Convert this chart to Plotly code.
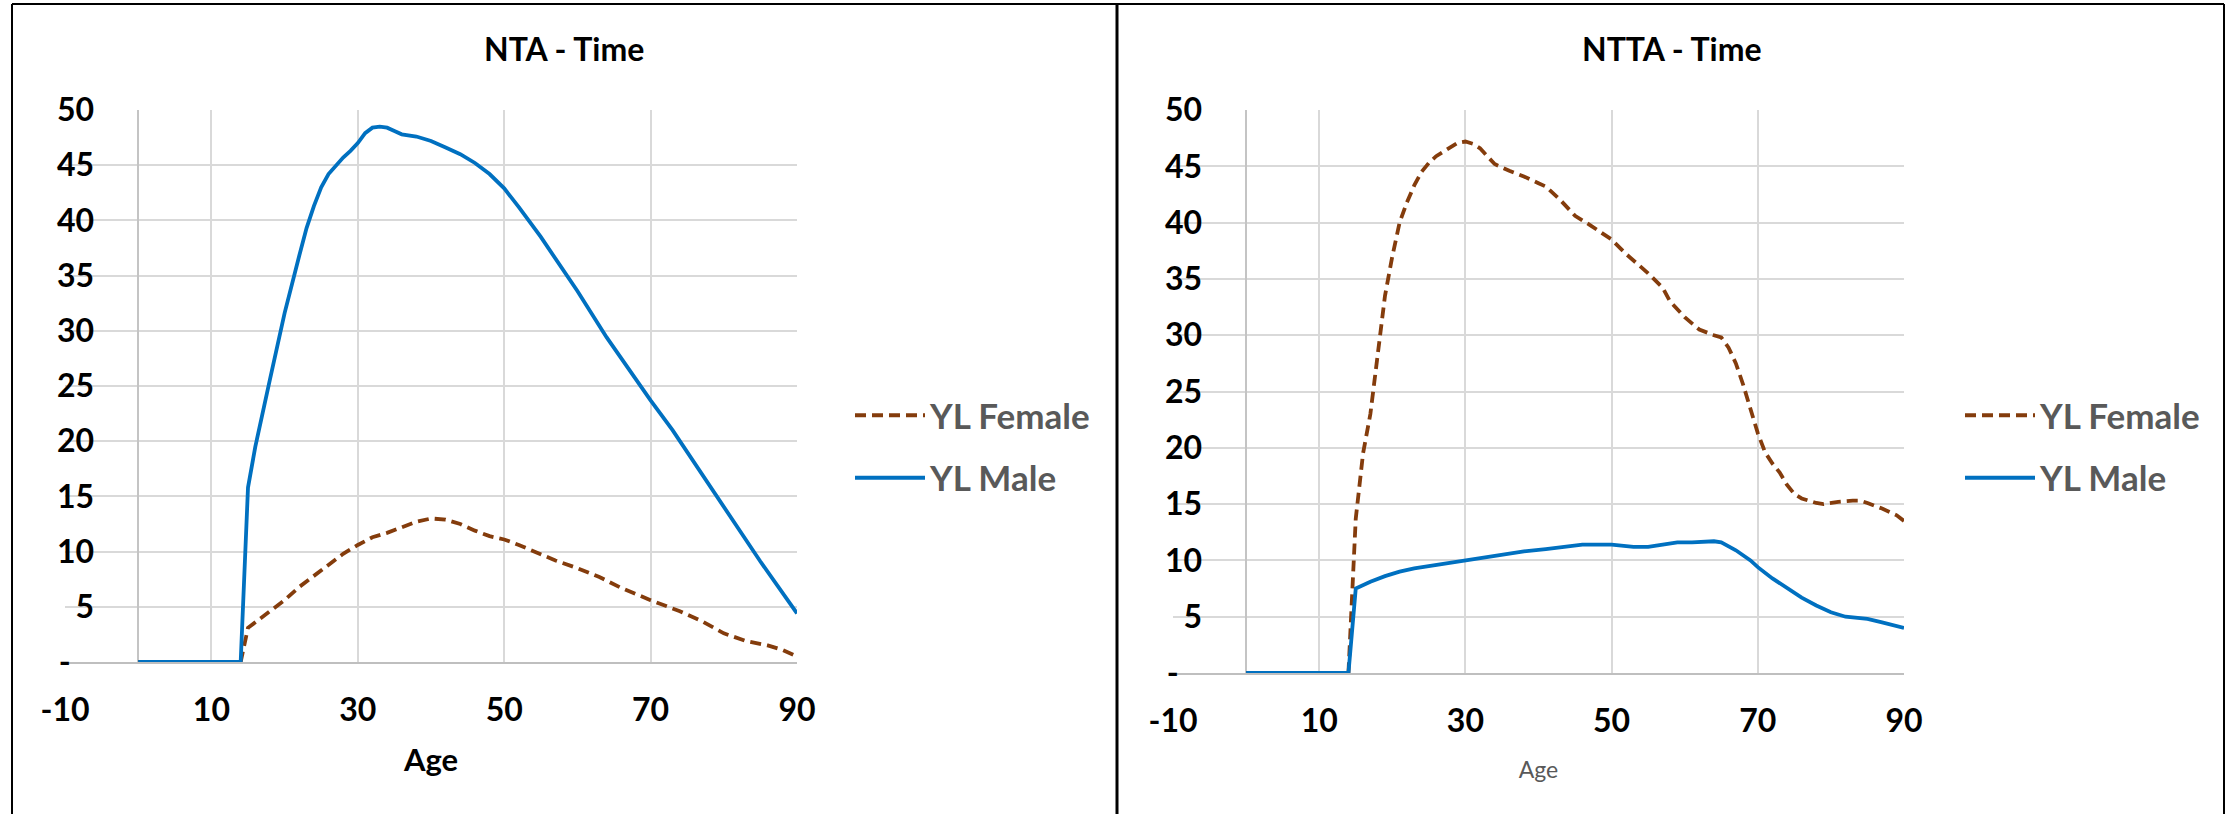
import plotly.graph_objects as go

# ---- NTA - Time (left panel) ----
nta_male_age = [0, 14, 15, 16, 18, 20, 22, 23, 24, 25, 26, 27, 28, 29, 30, 31, 32, 33, 34, 35, 36, 38, 40, 42,
                44, 46, 48, 50, 52, 55, 57, 60, 64, 67, 70, 73, 75, 80, 85, 90]
nta_male = [0, 0, 15.8, 19.5, 25.6, 31.6, 36.8, 39.3, 41.3, 43.0, 44.2, 45.0, 45.7, 46.3, 47.0, 47.9, 48.4,
            48.5, 48.4, 48.1, 47.8, 47.6, 47.2, 46.6, 46.0, 45.2, 44.2, 42.9, 41.2, 38.5, 36.6, 33.6, 29.4,
            26.5, 23.7, 21.0, 19.0, 14.0, 9.1, 4.4]

nta_female_age = [0, 14, 15, 16, 18, 20, 22, 24, 26, 28, 30, 32, 34, 36, 38, 40, 42, 44, 46, 48, 50, 52, 55,
                  57, 60, 63, 66, 70, 74, 77, 80, 83, 86, 88, 90]
nta_female = [0, 0, 3.1, 3.6, 4.6, 5.6, 6.8, 7.8, 8.9, 9.8, 10.6, 11.3, 11.7, 12.2, 12.7, 13.0, 12.9, 12.5,
              11.9, 11.4, 11.1, 10.6, 9.8, 9.2, 8.5, 7.7, 6.7, 5.6, 4.6, 3.7, 2.6, 1.9, 1.5, 1.1, 0.5]

# ---- NTTA - Time (right panel) ----
ntta_female_age = [0, 14, 15, 16, 17, 18, 19, 20, 21, 22, 23, 24, 25, 26, 27, 28, 29, 30, 31, 32, 33, 34, 36,
                   38, 40, 41, 43, 45, 47, 50, 52, 55, 57, 58, 60, 62, 64, 65, 66, 67, 68, 69, 70, 71, 72, 73,
                   74, 75, 76, 77, 78, 79, 81, 83, 84, 85, 87, 89, 90]
ntta_female = [0, 0, 13.7, 19.5, 23.0, 28.3, 33.5, 37.0, 40.0, 41.8, 43.3, 44.5, 45.3, 45.9, 46.3, 46.7, 47.1,
               47.2, 47.0, 46.6, 45.9, 45.2, 44.6, 44.1, 43.5, 43.2, 42.0, 40.6, 39.8, 38.5, 37.2, 35.5, 34.2,
               33.0, 31.6, 30.5, 30.0, 29.8, 28.9, 27.5, 25.6, 23.3, 21.3, 19.6, 18.6, 17.8, 16.7, 15.9, 15.5,
               15.3, 15.1, 15.0, 15.2, 15.3, 15.3, 15.1, 14.6, 14.0, 13.5]

ntta_male_age = [0, 14, 15, 17, 19, 21, 23, 25, 28, 30, 33, 35, 38, 41, 44, 46, 48, 50, 53, 55, 57, 59, 61, 64,
                 65, 67, 69, 70, 72, 74, 76, 78, 80, 82, 85, 87, 90]
ntta_male = [0, 0, 7.5, 8.1, 8.6, 9.0, 9.3, 9.5, 9.8, 10.0, 10.3, 10.5, 10.8, 11.0, 11.2, 11.4, 11.4, 11.4,
             11.2, 11.2, 11.4, 11.6, 11.6, 11.7, 11.6, 10.9, 10.0, 9.4, 8.4, 7.5, 6.7, 6.0, 5.4, 5.0, 4.8,
             4.5, 4.0]

x_ticks = [-10, 10, 30, 50, 70, 90]
x_ticktext = ["-10", "10", "30", "50", "70", "90"]
y_ticks = [0, 5, 10, 15, 20, 25, 30, 35, 40, 45, 50]
y_ticktext = ["-\u00a0\u00a0\u00a0"] + [str(v) for v in y_ticks[1:]]

FEMALE = "#843C0C"
MALE = "#0070C0"
FONT = "Lato"
W, H = 2236, 814
LW = 3.8

fig = go.Figure()


def add_series(x, y, name, color, dashed, xa, ya, leg):
    line = dict(color=color, width=LW)
    if dashed:
        line["dash"] = "11px,6px"
    fig.add_trace(go.Scatter(x=x, y=y, name=name, mode="lines", line=line,
                             xaxis=xa, yaxis=ya, legend=leg, legendgroup=leg + name))


add_series(nta_female_age, nta_female, "YL Female", FEMALE, True, "x", "y", "legend")
add_series(nta_male_age, nta_male, "YL Male", MALE, False, "x", "y", "legend")
add_series(ntta_female_age, ntta_female, "YL Female", FEMALE, True, "x2", "y2", "legend2")
add_series(ntta_male_age, ntta_male, "YL Male", MALE, False, "x2", "y2", "legend2")


def px_x(v):
    return v / W


def px_y(v):
    return 1 - v / H


grid = dict(showgrid=True, gridcolor="#d9d9d9", gridwidth=1.5, ticks="", automargin=False,
            tickfont=dict(family=FONT, size=32, color="black", weight="bold"))

xcommon = dict(grid, range=[-10, 90], tickmode="array", tickvals=x_ticks, ticktext=x_ticktext,
               zeroline=True, zerolinecolor="#c4c4c4", zerolinewidth=1.5,
               showline=True, linecolor="#bfbfbf", linewidth=1.5, ticklabelstandoff=19)
ycommon = dict(grid, range=[0, 50], tickmode="array", tickvals=y_ticks, ticktext=y_ticktext,
               zeroline=False, showline=False, ticklabelstandoff=-30)

legend_common = dict(xanchor="left", yanchor="top",
                     font=dict(family=FONT, size=35, color="#595959", weight="bold"),
                     itemwidth=70, traceorder="grouped", tracegroupgap=14,
                     bgcolor="rgba(0,0,0,0)")

fig.update_layout(
    width=W, height=H,
    template="none",
    paper_bgcolor="white", plot_bgcolor="white",
    margin=dict(l=0, r=0, t=0, b=0),
    xaxis=dict(xcommon, domain=[px_x(65), px_x(797)], anchor="y",
               title=dict(text="<b>Age</b>", standoff=22,
                          font=dict(family=FONT, size=31, color="black"))),
    yaxis=dict(ycommon, domain=[px_y(662), px_y(110)], anchor="x"),
    xaxis2=dict(xcommon, domain=[px_x(1173), px_x(1904)], anchor="y2",
                title=dict(text="Age", standoff=24,
                           font=dict(family=FONT, size=23, color="#595959"))),
    yaxis2=dict(ycommon, domain=[px_y(673), px_y(110)], anchor="x2"),
    legend=dict(legend_common, x=px_x(850), y=px_y(386)),
    legend2=dict(legend_common, x=px_x(1960), y=px_y(386)),
    showlegend=True,
    annotations=[
        dict(text="<b>NTA - Time</b>", x=px_x(564), y=px_y(49), xref="paper", yref="paper",
             xanchor="center", yanchor="middle",
             showarrow=False, font=dict(family=FONT, size=32, color="black")),
        dict(text="<b>NTTA - Time</b>", x=px_x(1672), y=px_y(49), xref="paper", yref="paper",
             xanchor="center", yanchor="middle",
             showarrow=False, font=dict(family=FONT, size=32, color="black")),
    ],
    shapes=[
        # panel frames
        dict(type="line", xref="paper", yref="paper", x0=px_x(12), x1=px_x(2224), y0=px_y(4), y1=px_y(4),
             line=dict(color="black", width=2)),
        dict(type="line", xref="paper", yref="paper", x0=px_x(12), x1=px_x(12), y0=px_y(4), y1=0,
             line=dict(color="black", width=2)),
        dict(type="line", xref="paper", yref="paper", x0=px_x(1117), x1=px_x(1117), y0=px_y(4), y1=0,
             line=dict(color="black", width=3)),
        dict(type="line", xref="paper", yref="paper", x0=px_x(2224), x1=px_x(2224), y0=px_y(4), y1=0,
             line=dict(color="black", width=2)),
    ],
)

fig.write_html("out.html")
